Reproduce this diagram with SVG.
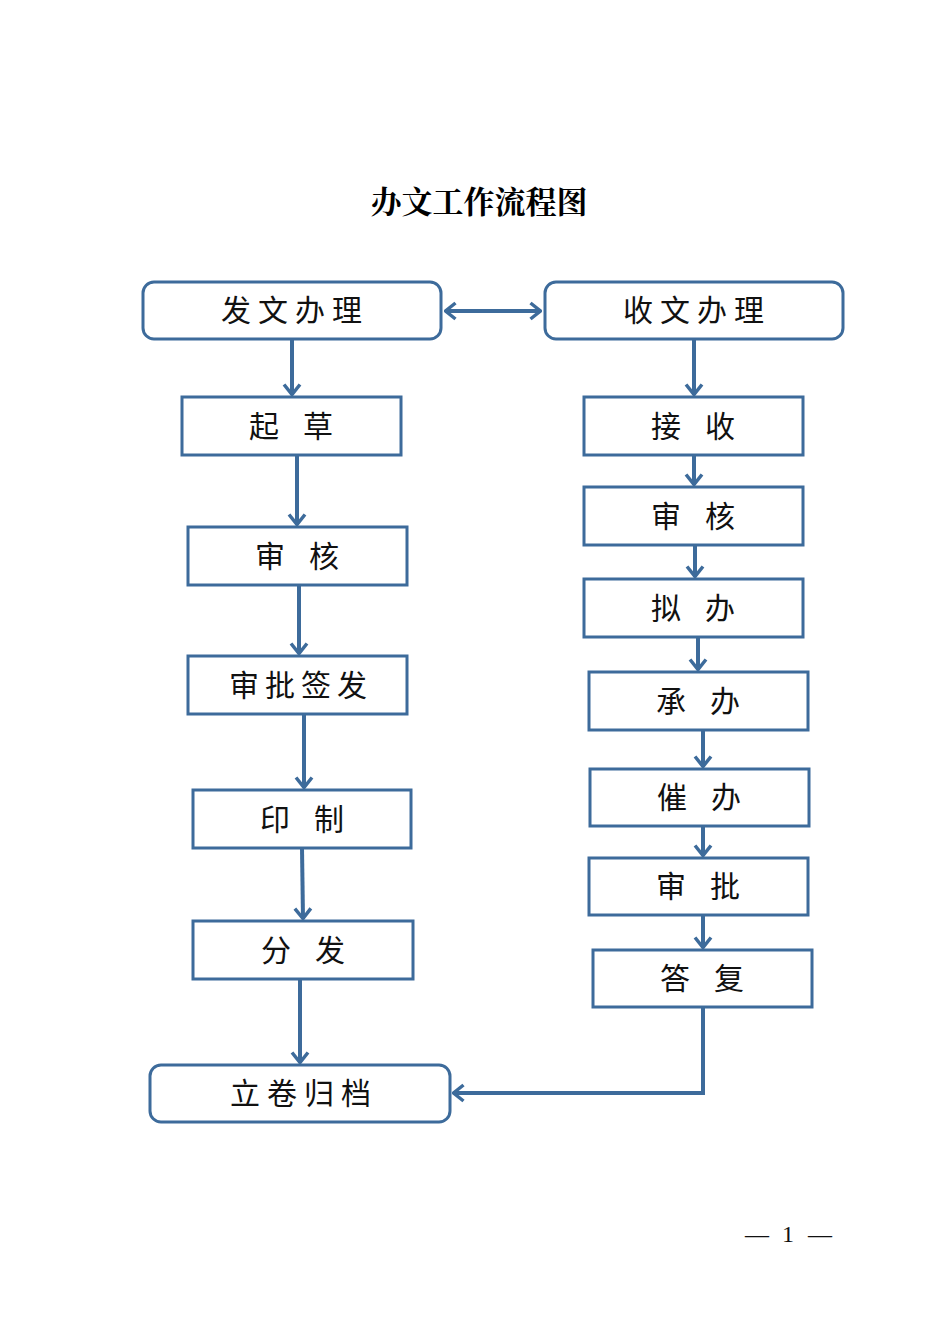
<svg xmlns="http://www.w3.org/2000/svg" width="950" height="1344" viewBox="0 0 950 1344">
<style>
.box{fill:#fff;stroke:#3d6b9b;stroke-width:3}
.lbl{font-family:"Noto Sans CJK SC","Noto Sans CJK JP",sans-serif;font-size:30px;fill:#111;text-anchor:middle}
.con{fill:none;stroke:#3d6b9b;stroke-width:4}
</style>
<defs>
<marker id="arr" viewBox="0 0 13 20" refX="12" refY="10" markerWidth="13" markerHeight="20" markerUnits="userSpaceOnUse" orient="auto-start-reverse">
<path d="M1.5,2 L11.5,10 L1.5,18" fill="none" stroke="#3d6b9b" stroke-width="3.5"/>
</marker>
</defs>
<rect width="950" height="1344" fill="#fff"/>
<text x="479" y="213" style="font-family:'Noto Serif CJK SC','Noto Sans CJK SC',serif;font-size:31px;font-weight:bold;fill:#000;text-anchor:middle">办文工作流程图</text>

<g id="n-fawen"><rect class="box" x="143" y="282" width="298" height="57" rx="11"/><text class="lbl" x="236 273 310 347" y="321">发文办理</text></g>
<g id="n-shouwen"><rect class="box" x="545" y="282" width="298" height="57" rx="11"/><text class="lbl" x="638 675 712 749" y="321">收文办理</text></g>

<g id="n-qicao"><rect class="box" x="182" y="397" width="219" height="58"/><text class="lbl" x="264 291 318" y="437">起 草</text></g>
<g id="n-shenhe1"><rect class="box" x="188" y="527" width="219" height="58"/><text class="lbl" x="270 297 324" y="567">审 核</text></g>
<g id="n-shenpiqianfa"><rect class="box" x="188" y="656" width="219" height="58"/><text class="lbl" x="244 280 316 352" y="696">审批签发</text></g>
<g id="n-yinzhi"><rect class="box" x="193" y="790" width="218" height="58"/><text class="lbl" x="275 302 329" y="830">印 制</text></g>
<g id="n-fenfa"><rect class="box" x="193" y="921" width="220" height="58"/><text class="lbl" x="276 303 330" y="961">分 发</text></g>
<g id="n-lijuan"><rect class="box" x="150" y="1065" width="300" height="57" rx="11"/><text class="lbl" x="245 282 319 356" y="1104">立卷归档</text></g>

<g id="n-jieshou"><rect class="box" x="584" y="397" width="219" height="58"/><text class="lbl" x="666 693 720" y="437">接 收</text></g>
<g id="n-shenhe2"><rect class="box" x="584" y="487" width="219" height="58"/><text class="lbl" x="666 693 720" y="527">审 核</text></g>
<g id="n-niban"><rect class="box" x="584" y="579" width="219" height="58"/><text class="lbl" x="666 693 720" y="619">拟 办</text></g>
<g id="n-chengban"><rect class="box" x="589" y="672" width="219" height="58"/><text class="lbl" x="671 698 725" y="712">承 办</text></g>
<g id="n-cuiban"><rect class="box" x="590" y="769" width="219" height="57"/><text class="lbl" x="672 699 726" y="808">催 办</text></g>
<g id="n-shenpi"><rect class="box" x="589" y="858" width="219" height="57"/><text class="lbl" x="671 698 725" y="897">审 批</text></g>
<g id="n-dafu"><rect class="box" x="593" y="950" width="219" height="57"/><text class="lbl" x="675 702 729" y="989">答 复</text></g>

<g id="connectors">
<line class="con" x1="445" y1="311" x2="541" y2="311" marker-start="url(#arr)" marker-end="url(#arr)"/>
<line class="con" x1="292" y1="339" x2="292" y2="395" marker-end="url(#arr)"/>
<line class="con" x1="694" y1="339" x2="694" y2="395" marker-end="url(#arr)"/>
<line class="con" x1="297" y1="455" x2="297" y2="525" marker-end="url(#arr)"/>
<line class="con" x1="299" y1="585" x2="299" y2="654" marker-end="url(#arr)"/>
<line class="con" x1="304" y1="714" x2="304" y2="788" marker-end="url(#arr)"/>
<line class="con" x1="302" y1="848" x2="303" y2="919" marker-end="url(#arr)"/>
<line class="con" x1="300" y1="979" x2="300" y2="1063" marker-end="url(#arr)"/>
<line class="con" x1="694" y1="455" x2="694" y2="485" marker-end="url(#arr)"/>
<line class="con" x1="695" y1="545" x2="695" y2="577" marker-end="url(#arr)"/>
<line class="con" x1="698" y1="637" x2="698" y2="670" marker-end="url(#arr)"/>
<line class="con" x1="703" y1="730" x2="703" y2="767" marker-end="url(#arr)"/>
<line class="con" x1="703" y1="826" x2="703" y2="856" marker-end="url(#arr)"/>
<line class="con" x1="703" y1="915" x2="703" y2="948" marker-end="url(#arr)"/>
<polyline class="con" points="703,1007 703,1093 453,1093" marker-end="url(#arr)"/>
</g>

<text x="757 772 788 804 820" y="1242" style="font-family:'Liberation Serif',serif;font-size:24px;fill:#111;text-anchor:middle">— 1 —</text>
</svg>
